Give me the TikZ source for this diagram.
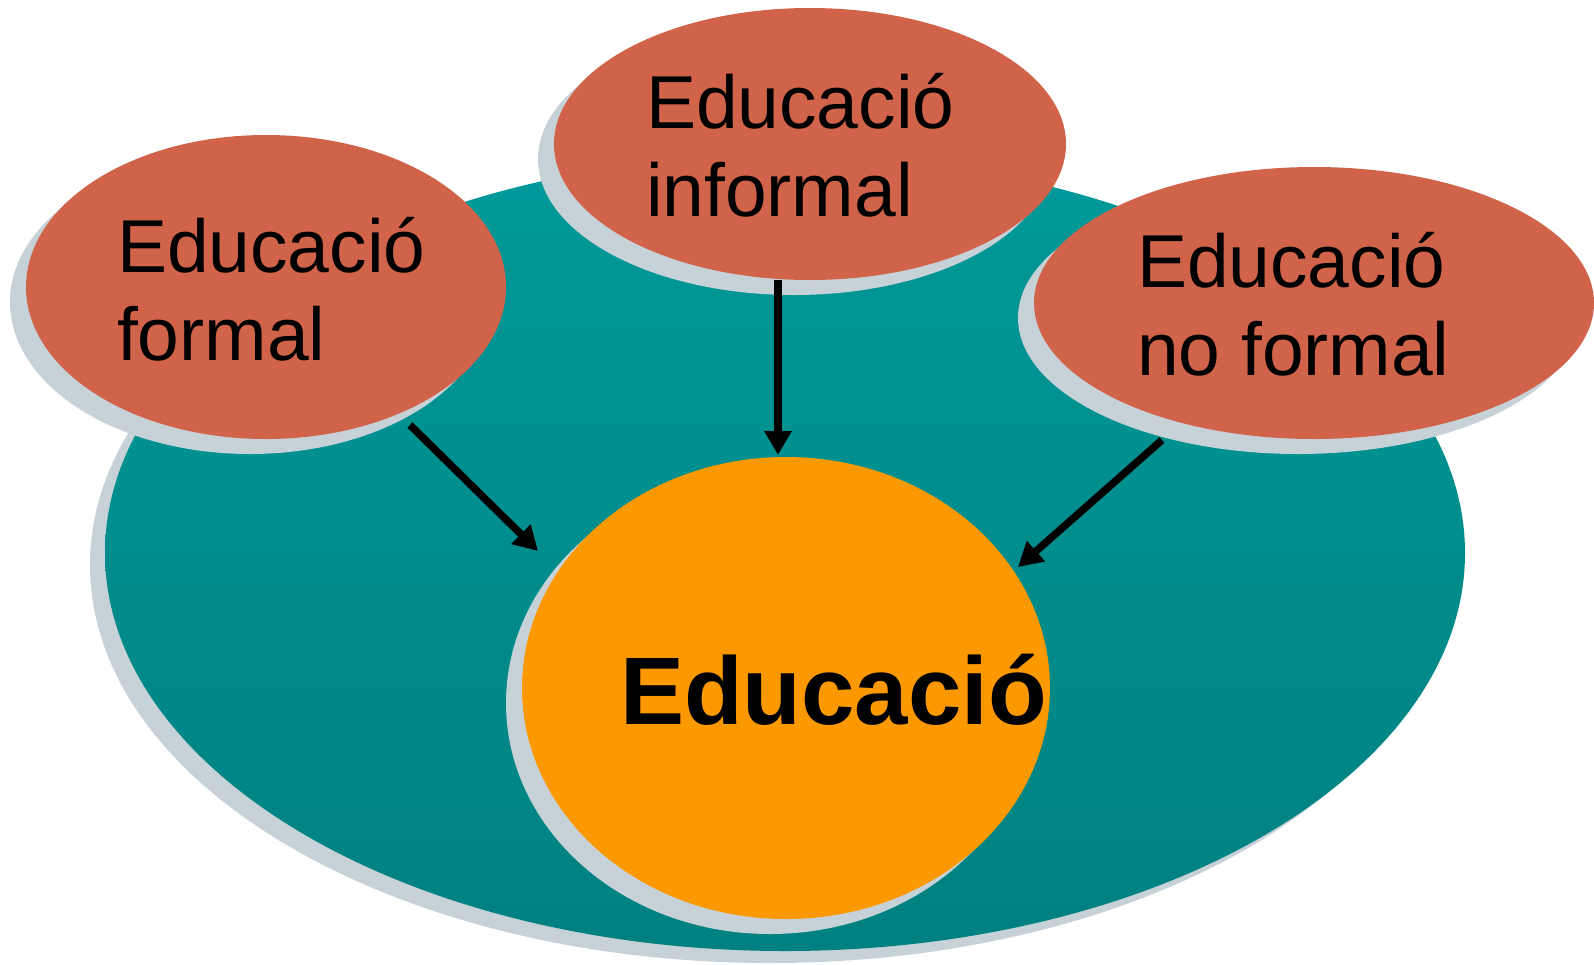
\documentclass[tikz,border=0pt]{standalone}
\usepackage{fontspec}
\setmainfont{Liberation Sans}
\usetikzlibrary{shapes.geometric,shadows,arrows.meta}
\definecolor{redc}{RGB}{209,99,74}
\definecolor{orangec}{RGB}{253,153,0}
\definecolor{tealtop}{RGB}{0,153,153}
\definecolor{tealbot}{RGB}{0,128,128}
\definecolor{shadowc}{RGB}{199,210,216}
\begin{document}
\begin{tikzpicture}[x=1pt,y=-1pt,
  blob/.style={ellipse, inner sep=0pt, outer sep=0pt, draw=none,
    general shadow={fill=shadowc, shadow xshift=-16pt, shadow yshift=-15pt}},
  redblob/.style={blob, fill=redc},
  lbl/.style={anchor=base west, inner sep=0pt, outer sep=0pt, align=left,
    font=\fontsize{75}{88}\selectfont},
  arr/.style={line width=7.5pt, -{Triangle[length=24pt,width=26pt]}}]
\useasboundingbox (0,0) rectangle (1594,964);
% outer teal ellipse
\node[ellipse, inner sep=0pt, draw=none, top color=tealtop, bottom color=tealbot,
  general shadow={fill=shadowc, shadow xshift=-15pt, shadow yshift=-12pt},
  minimum width=1360pt, minimum height=796pt] (outer) at (785,553) {};
% three red ellipses
\node[redblob, minimum width=480pt, minimum height=304pt] (formal) at (266,287) {};
\node[redblob, minimum width=512pt, minimum height=272pt] (informal) at (810,144) {};
\node[redblob, minimum width=560pt, minimum height=272pt] (noformal) at (1314,303) {};
% central orange ellipse
\node[blob, fill=orangec, minimum width=528pt, minimum height=462pt] (edu) at (786,688) {};
% labels (anchor = baseline of the last line)
\node[lbl] (tformal) at (117,360) {Educació\\formal};
\node[lbl] (tinformal) at (646,216) {Educació\\informal};
\node[lbl] (tnoformal) at (1137,375) {Educació\\no formal};
\node[anchor=base west, inner sep=0pt, font=\fontsize{96}{110}\selectfont\bfseries] (tedu) at (620,724) {Educació};
% arrow end points
\coordinate (fs) at (410,425);
\coordinate (fe) at (538,551);
\coordinate (is) at (778,280);
\coordinate (ie) at (778,455);
\coordinate (ns) at (1162,440);
\coordinate (ne) at (1018,567);
\draw[arr] (fs) -- (fe);
\draw[arr] (is) -- (ie);
\draw[arr] (ns) -- (ne);
\end{tikzpicture}
\end{document}
